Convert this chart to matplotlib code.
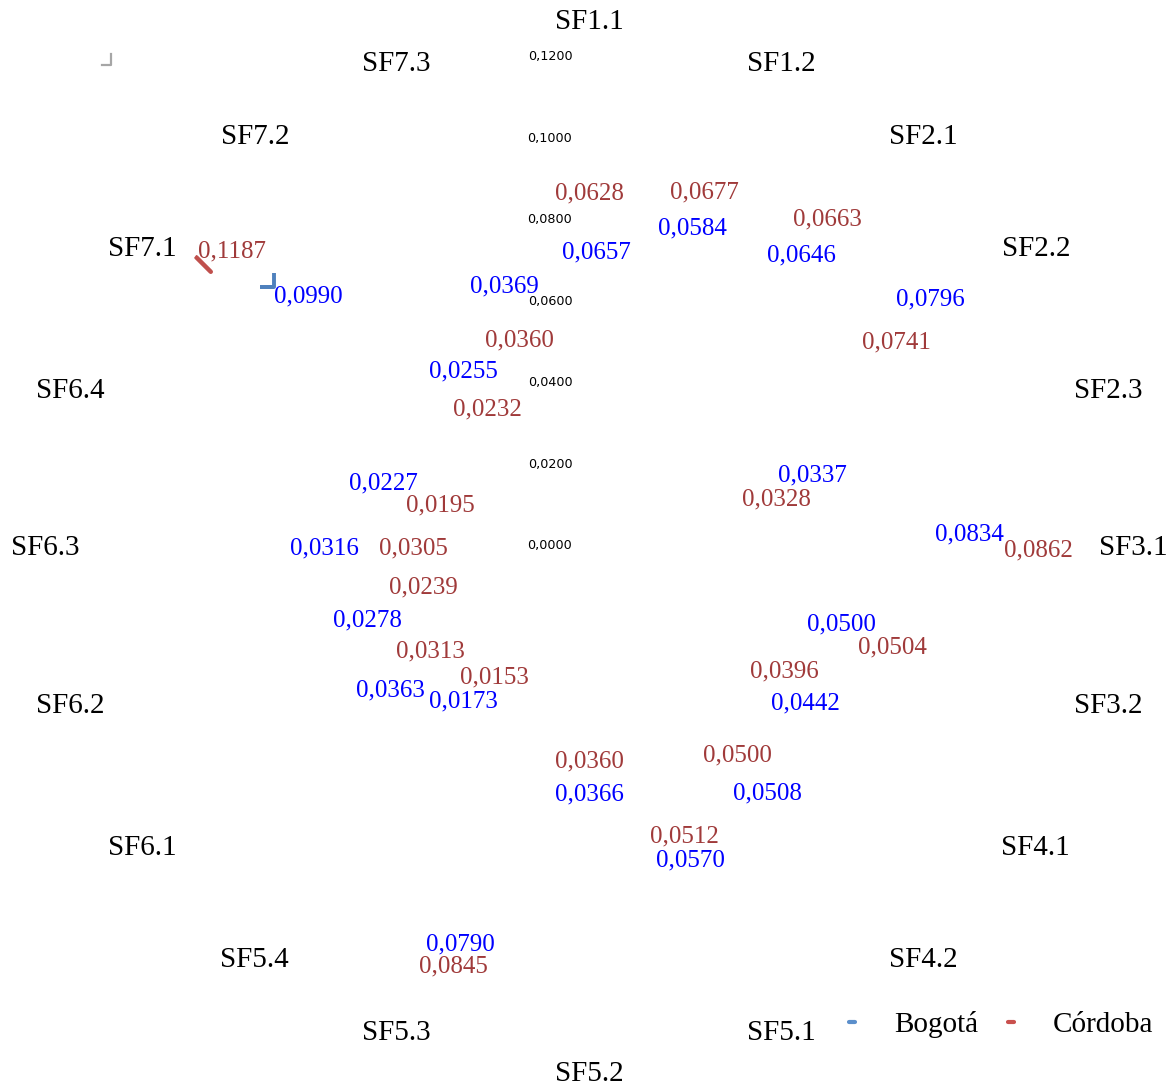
import numpy as np
import matplotlib
matplotlib.use('Agg')
import matplotlib.pyplot as plt
import matplotlib.transforms as mtransforms
from matplotlib.lines import Line2D
from matplotlib.markers import MarkerStyle
from matplotlib.path import Path

# Chart data
categories = ['SF1.1', 'SF1.2', 'SF2.1', 'SF2.2', 'SF2.3', 'SF3.1', 'SF3.2', 'SF4.1', 'SF4.2',
              'SF5.1', 'SF5.2', 'SF5.3', 'SF5.4', 'SF6.1', 'SF6.2', 'SF6.3', 'SF6.4',
              'SF7.1', 'SF7.2', 'SF7.3']
bogota = [0.0657, 0.0584, 0.0646, 0.0796, 0.0337, 0.0834, 0.0500, 0.0442, 0.0508, 0.0570,
          0.0366, 0.0790, 0.0173, 0.0363, 0.0278, 0.0316, 0.0227, 0.0990, 0.0255, 0.0369]
cordoba = [0.0628, 0.0677, 0.0663, 0.0741, 0.0328, 0.0862, 0.0504, 0.0396, 0.0500, 0.0512,
           0.0360, 0.0845, 0.0153, 0.0313, 0.0239, 0.0305, 0.0195, 0.1187, 0.0232, 0.0360]
r_ticks = [0.0, 0.02, 0.04, 0.06, 0.08, 0.10, 0.12]

# where the data labels sit (radius in data units, angle tweak in degrees)
bogota_label_r = [0.0726, 0.0825, 0.0888, 0.1036, 0.0577, 0.0935, 0.0648, 0.0653, 0.0746, 0.0807,
                  0.0604, 0.1023, 0.0486, 0.0601, 0.0572, 0.0650, 0.0530, 0.0925, 0.0530, 0.0675]
bogota_label_dt = [1.4, 0, 0, 0, 0, -2.1, -1.1, -0.3, 0, 0, 0, 0, 3.2, 0.3, 0, 0, -0.5, 5.9, 0.6, 0]
cordoba_label_r = [0.0869, 0.0918, 0.0996, 0.0908, 0.0476, 0.1102, 0.0785, 0.0567, 0.0626, 0.0746,
                   0.0523, 0.1080, 0.0393, 0.0464, 0.0417, 0.0432, 0.0380, 0.1139, 0.0422, 0.0537]
cordoba_label_dt = [0, 0, 0, 2.3, 3.4, 0.3, 0.2, -3.8, 0.3, -0.2, 0, 0, 0, 2.9, 4.7, 0, -1.9, 3.7, -0.3, -0.6]

BLUE_LINE = '#4F81BD'
RED_LINE = '#C0504D'
BLUE_TXT = '#0000FF'
RED_TXT = '#A03A3A'
SERIF = 'Liberation Serif'

def fmt(v):
    return f'{v:.4f}'.replace('.', ',')

fig = plt.figure(figsize=(11.74, 10.88), dpi=100)
ax = fig.add_axes([0.0852, 0.0487, 0.833, 0.899], projection='polar')
ax.set_theta_zero_location('N')
ax.set_theta_direction(-1)
ax.set_ylim(0, 0.12)
ax.set_axis_off()

n = len(categories)
theta = np.arange(n) * 2 * np.pi / n

# category labels around the outside (Excel style: pushed sideways, a bit up/down)
for t, cat in zip(theta, categories):
    s, c = np.sin(t), np.cos(t)
    if abs(s) < 1e-6:
        dx, dy = 0, 37 * np.sign(c)
    else:
        dx = 35 * np.sign(s) + 20 * s
        dy = 20 * c
    ax.annotate(cat, xy=(t, 0.12), xytext=(dx, dy - 2.5), textcoords='offset pixels',
                ha='center', va='center', fontsize=21, family=SERIF, color='black')

# radial tick labels
for v in r_ticks:
    ax.annotate(fmt(v), xy=(0, v), xytext=(-39, 0), textcoords='offset pixels',
                ha='center', va='center', fontsize=9.2, family='DejaVu Sans', color='black')

# data labels
lab_shift = ax.transData + mtransforms.ScaledTranslation(0, -0.02, fig.dpi_scale_trans)
for i in range(n):
    tb = theta[i] + np.deg2rad(bogota_label_dt[i])
    ax.text(tb, bogota_label_r[i], fmt(bogota[i]), ha='center', va='center',
            fontsize=18, family=SERIF, color=BLUE_TXT, transform=lab_shift)
    tc = theta[i] + np.deg2rad(cordoba_label_dt[i])
    ax.text(tc, cordoba_label_r[i], fmt(cordoba[i]), ha='center', va='center',
            fontsize=18, family=SERIF, color=RED_TXT, transform=lab_shift)

# the only visible bits of the series: little marker pieces at SF7.1
k = categories.index('SF7.1')
slash = MarkerStyle(Path([(-1, 1), (1, -1)]), capstyle='round')
red_shift = ax.transData + mtransforms.ScaledTranslation(0.05, -0.02, fig.dpi_scale_trans)
ax.plot([theta[k]], [cordoba[k]], linestyle='none', marker=slash, markersize=10.5,
        markeredgewidth=3.2, color=RED_LINE, transform=red_shift)
corner = MarkerStyle(Path([(-1, 0), (0, 0), (0, 1)]), fillstyle='none',
                     capstyle='butt', joinstyle='miter')
blue_shift = ax.transData + mtransforms.ScaledTranslation(0.11, 0.22, fig.dpi_scale_trans)
ax.plot([theta[k]], [bogota[k]], linestyle='none', marker=corner, markersize=20,
        markeredgewidth=2.8, color=BLUE_LINE, markerfacecolor='none', transform=blue_shift)

# stray corner mark top-left
fig.add_artist(Line2D(np.array([102, 111, 111]) / 1174, 1 - np.array([65, 65, 54]) / 1088,
                      color='#A6A6A6', lw=1.6, transform=fig.transFigure))

handles = [Line2D([], [], color='#5B8FCB', lw=3, solid_capstyle='round'),
           Line2D([], [], color='#C9504D', lw=3, solid_capstyle='round')]
fig.legend(handles, ['Bogotá', 'Córdoba'], ncol=2, frameon=False, loc='center',
           bbox_to_anchor=(0.853, 0.0580), handlelength=0.2, handletextpad=1.35,
           columnspacing=1.0, prop={'family': SERIF, 'size': 21})

fig.savefig('out.png', dpi=100)
